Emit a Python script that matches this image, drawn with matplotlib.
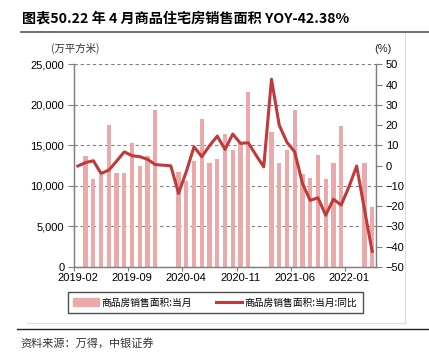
import numpy as np
import matplotlib
matplotlib.use("Agg")
from matplotlib import pyplot as plt
from matplotlib.lines import Line2D

plt.rcParams['font.family'] = ['Liberation Sans', 'Noto Sans CJK SC', 'DejaVu Sans']

# months 2019-02 .. 2022-04
months = []
for y in range(2019, 2023):
    for m in range(1, 13):
        if (y == 2019 and m < 2) or (y == 2022 and m > 4):
            continue
        months.append("%d-%02d" % (y, m))

nan = np.nan
# 商品房销售面积:当月 (万平方米)
area = [nan, 13670, 10830, 11400, 17460, 11570, 11600, 15240, 12470, 13670,
        19350, nan, nan, 11650, 10620, 13050, 18200, 12770, 13300, 16350,
        14440, 15240, 21600, nan, nan, 16670, 12880, 14400, 19350, 11440,
        11030, 13790, 10900, 12770, 17370, nan, nan, 12840, 7370]
# 商品房销售面积:当月:同比 (%)
yoy = [-0.2, 1.5, 2.4, -3.9, -2.2, 2.2, 6.8, 4.9, 4.4, 3.1,
       0.5, 0.2, -0.1, -13.7, -3.0, 9.3, 4.4, 9.8, 14.6, 8.0,
       15.6, 11.0, 11.3, 5.2, -0.6, 42.7, 20.0, 11.5, 6.8, -8.8,
       -17.2, -15.9, -24.5, -16.6, -19.5, -10.5, -0.2, -21.5, -42.38]

tick_idx = [0, 7, 14, 21, 28, 35]

bar_color = "#EAAAAA"
line_color = "#C0393B"
axis_color = "#7F7F7F"
cjk = ['Noto Sans CJK SC', 'DejaVu Sans']

fig = plt.figure(figsize=(4.29, 3.62), dpi=100)
ax = fig.add_axes([0.1725, 0.263, 0.704, 0.559])
ax2 = ax.twinx()

x = np.arange(len(months))
ax.bar(x, area, width=0.55, color=bar_color, zorder=2)
ax2.plot(x, yoy, color=line_color, linewidth=2.2, zorder=3)

ax.set_xlim(-0.5, len(months) - 0.5)
ax.set_ylim(0, 25000)
ax2.set_ylim(-50, 50)
ax.set_yticks(np.arange(0, 25001, 5000))
ax.set_yticklabels(["{:,}".format(v) for v in range(0, 25001, 5000)])
ax2.set_yticks(np.arange(-50, 51, 10))

# tick marks between categories, labels at category centres
ax.set_xticks([i - 0.5 for i in tick_idx])
ax.set_xticklabels([])
ax.set_xticks(tick_idx, minor=True)
ax.set_xticklabels([months[i] for i in tick_idx], minor=True)
ax.tick_params(axis='x', which='major', length=3, color=axis_color)
ax.tick_params(axis='x', which='minor', length=0, labelsize=8, pad=4.5)
ax.tick_params(axis='y', length=4, color=axis_color, labelsize=8, pad=3)
ax2.tick_params(axis='y', length=4, color=axis_color, labelsize=8, pad=3)

ax.grid(axis='y', color="#808080", linestyle=(0, (3, 2.5)), linewidth=0.8, zorder=0)
ax.set_axisbelow(True)

for a in (ax, ax2):
    a.spines['top'].set_visible(False)
    for s in ('left', 'right', 'bottom'):
        a.spines[s].set_color(axis_color)
        a.spines[s].set_linewidth(0.9)

fig.text(0.175, 0.865, "(万平方米)", ha='center', va='center', fontsize=7.5,
         family=cjk, color="#333333")
fig.text(0.893, 0.865, "(%)", ha='center', va='center', fontsize=8, color="#222222")

handles = [plt.Rectangle((0, 0), 1, 1, color=bar_color),
           Line2D([0], [0], color=line_color, linewidth=2.2)]
labels = ["商品房销售面积:当月", "商品房销售面积:当月:同比"]
leg = fig.legend(handles, labels, loc='center', ncol=2,
                 bbox_to_anchor=(0.114, 0.127, 0.776, 0.0746),
                 frameon=True, fancybox=False, edgecolor="#222222",
                 prop={'family': cjk, 'size': 7}, handlelength=2.6,
                 handleheight=0.8, columnspacing=2.5, handletextpad=0.3,
                 borderpad=0.6)
leg.get_frame().set_linewidth(1.0)

# title and frame lines
fig.text(0.051, 0.95, "图表50.22 年 4 月商品住宅房销售面积 YOY-42.38%",
         ha='left', va='center', fontsize=10.2, weight='bold',
         family=['Noto Sans CJK SC', 'DejaVu Sans'])
fig.add_artist(Line2D([0.05, 1.0], [0.912, 0.912], color="#555555", linewidth=1.2))
fig.add_artist(Line2D([0.944, 0.944], [0.91, 0.108], color="#DDDDDD", linewidth=0.8))
fig.add_artist(Line2D([0.063, 0.944], [0.108, 0.108], color="#DDDDDD", linewidth=0.8))
fig.add_artist(Line2D([0.04, 1.0], [0.091, 0.091], color="#222222", linewidth=1.0))
fig.text(0.047, 0.052, "资料来源：万得，中银证券", ha='left', va='center',
         fontsize=8, style='italic', family=cjk, color="#333333")

fig.savefig("out.png", dpi=100)
